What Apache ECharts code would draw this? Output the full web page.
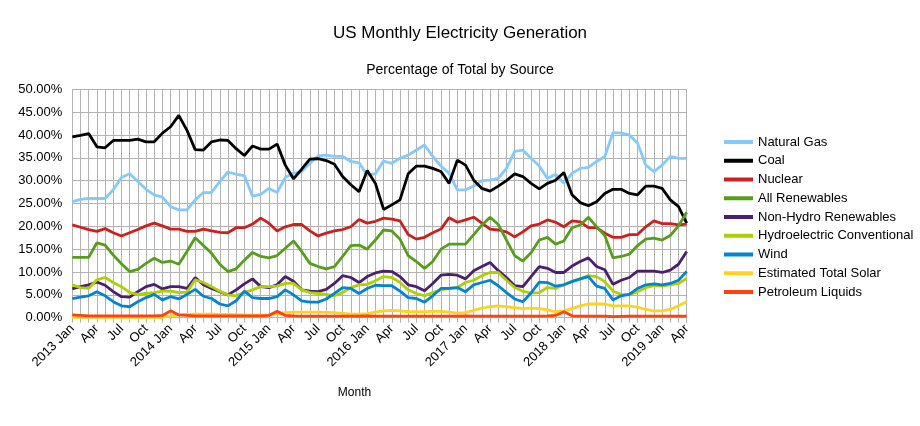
<!DOCTYPE html>
<html>
<head>
<meta charset="utf-8">
<script src="https://cdn.jsdelivr.net/npm/echarts@6/dist/echarts.min.js"></script>
<style>
html,body{margin:0;padding:0;background:#fff;}
#chart{width:920px;height:426px;}
</style>
</head>
<body>
<div id="chart"></div>
<script>
const years = [2013, 2014, 2015, 2016, 2017, 2018, 2019];
const monthNames = ['Jan','Feb','Mar','Apr','May','Jun','Jul','Aug','Sep','Oct','Nov','Dec'];
const lastYearMonths = 4;

const naturalGas = [25.4,25.9,26.1,26.1,26.1,28.0,30.7,31.5,29.8,28.1,26.9,26.4,
  24.3,23.6,23.6,25.8,27.4,27.4,29.8,31.9,31.4,31.1,26.6,27.0,
  28.3,27.4,30.7,31.6,32.0,33.8,35.4,35.6,35.3,35.3,34.2,33.9,
  31.2,31.5,34.3,33.8,34.9,35.6,36.7,37.8,35.3,33.2,31.6,28.0,
  28.0,28.8,30.0,30.1,30.5,32.7,36.4,36.7,34.9,33.2,30.5,31.4,
  29.4,31.6,32.7,32.9,34.2,35.3,40.5,40.4,40.0,38.2,33.4,32.0,
  33.4,35.3,34.9,34.9];
const coal = [39.6,39.9,40.3,37.4,37.2,38.8,38.8,38.8,39.1,38.5,38.5,40.4,
  41.8,44.3,41.0,36.8,36.7,38.5,38.9,38.8,37.0,35.5,37.6,36.9,
  36.9,38.0,33.4,30.4,32.5,34.7,34.8,34.4,33.6,30.9,29.1,27.6,
  32.2,29.4,23.7,24.7,25.8,31.5,33.2,33.2,32.7,32.0,29.4,34.5,
  33.4,30.1,28.3,27.7,28.8,30.0,31.5,30.9,29.4,28.2,29.4,30.1,
  31.8,26.9,25.2,24.5,25.4,27.2,28.1,28.1,27.2,26.9,28.8,28.8,
  28.3,25.8,24.3,20.7];
const nuclear = [20.3,19.8,19.3,18.9,19.5,18.6,17.9,18.6,19.3,20.1,20.7,20.1,
  19.4,19.4,18.9,18.9,19.4,19.0,18.7,18.6,19.7,19.7,20.5,21.8,
  20.7,19.0,19.9,20.4,20.4,19.0,17.9,18.5,19.0,19.3,19.9,21.5,
  20.7,21.1,21.8,21.6,21.2,18.2,17.2,17.6,18.6,19.4,21.9,20.9,
  21.4,22.0,20.7,19.4,19.2,18.8,17.7,18.8,20.1,20.5,21.4,20.9,
  19.9,21.2,21.0,19.7,19.7,18.5,17.6,17.6,18.2,18.2,19.9,21.2,
  20.6,20.6,20.3,20.5];
const allRenewables = [13.2,13.2,13.2,16.4,15.9,13.7,11.8,10.1,10.6,11.9,13.0,12.1,
  12.4,11.7,14.5,17.5,15.8,14.1,11.7,10.1,10.7,12.6,14.3,13.4,
  13.1,13.6,15.2,16.8,14.5,11.9,11.2,10.7,11.2,13.4,15.8,15.9,
  15.0,17.0,19.2,19.0,17.2,13.6,12.3,10.8,12.3,15.0,16.1,16.1,
  16.1,18.2,20.3,22.0,20.4,17.0,13.6,12.4,14.2,17.0,17.6,16.1,
  16.8,19.7,20.3,22.0,19.9,18.0,13.1,13.4,13.9,15.8,17.2,17.4,
  17.0,18.0,20.1,23.1];
const nonHydro = [6.3,6.8,7.2,7.8,7.1,5.7,4.6,4.5,5.7,6.8,7.3,6.3,
  6.8,6.8,6.4,8.8,7.2,6.4,5.7,5.0,6.1,7.4,8.5,6.8,
  6.6,7.2,9.0,8.0,6.1,5.8,5.7,6.2,7.5,9.2,8.8,7.7,
  9.0,9.8,10.2,10.1,9.0,7.2,6.8,5.9,7.5,9.3,9.5,9.3,
  8.5,10.3,11.2,12.1,10.3,8.8,7.0,6.8,9.0,11.2,10.8,9.9,
  9.9,11.3,12.3,13.1,11.2,10.5,7.3,8.2,8.8,10.2,10.2,10.2,
  9.9,10.4,11.7,14.5];
const hydro = [7.2,6.6,6.4,8.3,8.8,7.7,6.8,5.5,5.1,5.3,5.5,5.8,
  5.8,5.5,5.6,8.3,7.7,6.8,5.8,5.0,4.8,5.5,6.1,6.8,
  6.8,6.9,7.5,7.5,6.1,5.5,5.3,5.1,4.8,5.5,6.6,7.2,
  7.3,8.1,9.0,8.8,7.7,6.1,5.3,4.8,5.5,6.1,6.4,6.6,
  7.7,8.2,9.2,9.9,9.9,8.2,6.6,5.8,5.4,5.5,6.6,6.4,
  7.2,8.0,8.5,9.2,9.0,7.9,5.8,5.1,5.0,5.7,6.6,7.0,
  6.9,7.2,7.5,8.6];
const wind = [4.2,4.5,4.8,5.7,4.8,3.5,2.6,2.4,3.5,4.4,5.1,3.9,
  4.6,4.1,5.1,6.2,4.7,4.2,3.0,2.6,3.7,5.8,4.4,4.2,
  4.2,4.6,6.1,5.0,3.7,3.4,3.4,4.1,5.3,6.6,6.4,5.3,
  6.4,7.1,7.0,7.0,5.8,4.4,4.2,3.4,4.8,6.4,6.4,6.6,
  5.7,7.2,7.7,8.2,7.0,5.5,4.1,3.5,5.4,7.8,7.7,6.9,
  7.2,7.9,8.5,9.0,6.9,6.4,3.9,4.8,5.1,6.4,7.2,7.4,
  7.2,7.5,8.2,10.1];
const solar = [0.05,0.05,0.05,0.05,0.05,0.05,0.05,0.05,0.05,0.05,0.05,0.05,
  0.4,0.6,0.7,0.75,0.75,0.75,0.7,0.7,0.65,0.6,0.55,0.55,
  0.6,0.9,1.1,1.2,1.2,1.2,1.2,1.15,1.1,0.95,0.8,0.8,
  0.9,1.2,1.5,1.6,1.5,1.3,1.3,1.3,1.4,1.4,1.2,1.0,
  1.1,1.6,2.1,2.4,2.6,2.4,2.2,2.0,2.1,2.0,1.7,1.3,
  1.5,2.0,2.6,3.0,3.0,3.0,2.6,2.6,2.6,2.3,1.8,1.5,
  1.5,1.8,2.6,3.5];
const petroleum = [0.6,0.5,0.4,0.4,0.4,0.4,0.4,0.4,0.4,0.4,0.4,0.5,
  1.5,0.6,0.5,0.4,0.4,0.4,0.4,0.4,0.4,0.4,0.4,0.4,
  0.5,1.4,0.5,0.4,0.35,0.35,0.35,0.35,0.35,0.35,0.35,0.35,
  0.4,0.35,0.35,0.35,0.35,0.35,0.35,0.35,0.35,0.35,0.35,0.35,
  0.4,0.35,0.35,0.35,0.35,0.35,0.35,0.35,0.35,0.35,0.4,0.5,
  1.3,0.4,0.35,0.35,0.35,0.35,0.25,0.3,0.35,0.35,0.35,0.35,
  0.35,0.35,0.35,0.35];

const yTicks = {min: 0, max: 50, interval: 5};

const months = [];
years.forEach((y, yi) => {
  const n = (yi === years.length - 1) ? lastYearMonths : 12;
  for (let m = 0; m < n; m++) months.push(y + ' ' + monthNames[m]);
});

const seriesDefs = [
  ['Natural Gas', naturalGas, '#83CAFF'],
  ['Coal', coal, '#000000'],
  ['Nuclear', nuclear, '#C9211E'],
  ['All Renewables', allRenewables, '#579D1C'],
  ['Non-Hydro Renewables', nonHydro, '#4B1F6F'],
  ['Hydroelectric Conventional', hydro, '#AECF00'],
  ['Wind', wind, '#0084D1'],
  ['Estimated Total Solar', solar, '#FFD320'],
  ['Petroleum Liquids', petroleum, '#FF420E']
];

const FONT = '"Liberation Sans", Arial, sans-serif';
const chart = echarts.init(document.getElementById('chart'), null, {renderer: 'canvas'});
chart.setOption({
  animation: false,
  backgroundColor: '#ffffff',
  textStyle: {fontFamily: FONT},
  title: [
    {text: 'US Monthly Electricity Generation', left: 'center', top: 20,
     textStyle: {fontFamily: FONT, fontSize: 17, fontWeight: 'normal', color: '#000'}},
    {text: 'Percentage of Total by Source', left: 'center', top: 58,
     textStyle: {fontFamily: FONT, fontSize: 14, fontWeight: 'normal', color: '#000'}}
  ],
  legend: {
    orient: 'vertical', left: 719, top: 129,
    icon: 'rect', itemWidth: 29, itemHeight: 4, itemGap: 2.75,
    textStyle: {fontFamily: FONT, fontSize: 13, color: '#000', lineHeight: 16},
    data: seriesDefs.map(d => d[0])
  },
  grid: {left: 72.3, right: 233.3, top: 89.3, bottom: 108.3, containLabel: false},
  xAxis: {
    type: 'category', data: months, boundaryGap: false,
    name: 'Month', nameLocation: 'middle', nameGap: 69,
    nameTextStyle: {fontFamily: FONT, fontSize: 12, color: '#000', padding: [0, 50, 0, 0]},
    axisLine: {show: true, lineStyle: {color: '#b3b3b3', width: 1}},
    axisTick: {show: true, interval: 0, length: 5, lineStyle: {color: '#b3b3b3'}},
    splitLine: {show: true, interval: 0, lineStyle: {color: '#b3b3b3', width: 1}},
    axisLabel: {
      interval: 2, rotate: 45, margin: 9, fontFamily: FONT, fontSize: 13, color: '#000',
      formatter: v => v.endsWith('Jan') ? v : v.split(' ')[1]
    }
  },
  yAxis: {
    type: 'value', min: yTicks.min, max: yTicks.max, interval: yTicks.interval,
    axisLine: {show: false},
    axisTick: {show: false},
    splitLine: {show: true, lineStyle: {color: '#b3b3b3', width: 1}},
    axisLabel: {margin: 10, fontFamily: FONT, fontSize: 13, color: '#000',
      formatter: v => v.toFixed(2) + '%'}
  },
  series: seriesDefs.map(d => ({
    name: d[0], type: 'line', data: d[1], symbol: 'none',
    lineStyle: {width: 2.8, color: d[2]}, itemStyle: {color: d[2]},
    emphasis: {disabled: true}
  }))
});
</script>
</body>
</html>
